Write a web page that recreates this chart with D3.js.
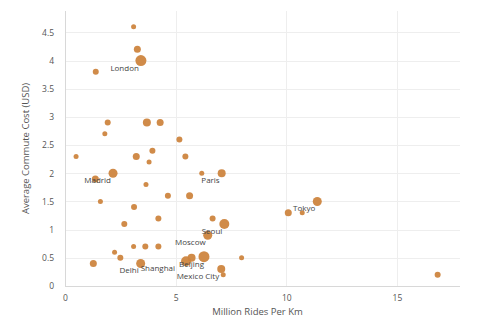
<!DOCTYPE html>
<html>
<head>
<meta charset="utf-8">
<script src="https://cdn.jsdelivr.net/npm/d3@7"></script>
<style>
  html, body { margin: 0; padding: 0; background: #fff; }
  svg { display: block; font-family: "Open Sans", sans-serif; }
</style>
</head>
<body>
<svg id="chart" width="477" height="328"></svg>
<script>
// Data: million rides per km (x), average commute cost USD (y), relative marker size, city label
const ridesPerKm = [3.1, 3.27, 3.43, 1.39, 1.93, 3.7, 4.3, 1.8, 5.17, 0.5, 3.22, 3.95, 5.44, 3.8,
  2.17, 1.37, 3.66, 1.6, 3.12, 2.68, 4.22, 4.65, 5.63, 6.18, 7.08, 3.1, 3.63, 4.22, 2.24, 2.5,
  1.28, 3.42, 6.67, 7.2, 6.45, 7.98, 6.28, 5.72, 5.47, 7.06, 7.15, 10.09, 10.72, 11.4, 16.84];
const commuteCost = [4.6, 4.2, 4.0, 3.8, 2.9, 2.9, 2.9, 2.7, 2.6, 2.3, 2.3, 2.4, 2.3, 2.2,
  2.0, 1.9, 1.8, 1.5, 1.4, 1.1, 1.2, 1.6, 1.6, 2.0, 2.0, 0.7, 0.7, 0.7, 0.6, 0.5,
  0.4, 0.4, 1.2, 1.1, 0.9, 0.5, 0.52, 0.5, 0.44, 0.3, 0.2, 1.3, 1.3, 1.5, 0.2];
const markerSize = [2.5, 3.5, 5.5, 3, 3, 4, 3.5, 2.5, 3, 2.5, 3.5, 3, 3, 2.5,
  4.5, 3.5, 2.5, 2.5, 3, 3, 3, 3, 3.5, 2.5, 4, 2.5, 3, 3, 2.5, 3,
  3.5, 4.5, 3, 5, 4.5, 2.5, 5.5, 4, 5, 4, 2.5, 3.5, 2.5, 4.5, 3];
const cityLabels = ["", "", "London", "", "", "", "", "", "", "", "", "", "", "",
  "Madrid", "", "", "", "", "", "", "", "", "", "Paris", "", "", "", "", "",
  "", "Delhi", "", "Seoul", "Moscow", "", "Beijing", "", "Shanghai", "Mexico City", "", "", "", "Tokyo", ""];
const xTicks = [0, 5, 10, 15];
const yTicks = [0, 0.5, 1, 1.5, 2, 2.5, 3, 3.5, 4, 4.5];
const xTitle = "Million Rides Per Km";
const yTitle = "Average Commute Cost (USD)";

const svg = d3.select("#chart");
const mLeft = 65, mRight = 460, mTop = 11, mBottom = 286;

const x = d3.scaleLinear().domain([0, 17.85]).range([mLeft, mRight]);
const y = d3.scaleLinear().domain([0, 4.88]).range([mBottom, mTop]);

// grid
const grid = svg.append("g");
grid.selectAll("line.h").data(yTicks).join("line")
  .attr("x1", mLeft).attr("x2", mRight)
  .attr("y1", d => Math.round(y(d)) + 0.5).attr("y2", d => Math.round(y(d)) + 0.5)
  .attr("stroke", d => d === 0 ? "#d8d8d8" : "#eeeeee").attr("stroke-width", 1);
grid.selectAll("line.v").data(xTicks).join("line")
  .attr("y1", mTop).attr("y2", mBottom)
  .attr("x1", d => Math.round(x(d)) + 0.5).attr("x2", d => Math.round(x(d)) + 0.5)
  .attr("stroke", d => d === 0 ? "#d8d8d8" : "#eeeeee").attr("stroke-width", 1);

// axes (labels only)
const fmt = d => String(d);
const xAxis = d3.axisBottom(x).tickValues(xTicks).tickFormat(fmt).tickSize(0).tickPadding(9);
const gx = svg.append("g").attr("transform", `translate(0,${mBottom})`).call(xAxis);
gx.select(".domain").remove();
gx.selectAll("text").attr("fill", "#555").style("font-size", "8.5px").style("font-family", "Open Sans");

const yAxis = d3.axisLeft(y).tickValues(yTicks).tickFormat(fmt).tickSize(0).tickPadding(11);
const gy = svg.append("g").attr("transform", `translate(${mLeft},0)`).call(yAxis);
gy.select(".domain").remove();
gy.selectAll("text").attr("fill", "#555").style("font-size", "8.5px").style("font-family", "Open Sans");

// titles
svg.append("text").attr("x", (mLeft + mRight) / 2 - 5).attr("y", 315)
  .attr("text-anchor", "middle").attr("fill", "#555").style("font-size", "9.5px")
  .text(xTitle);
svg.append("text").attr("transform", `translate(29,${(mTop + mBottom) / 2}) rotate(-90)`)
  .attr("text-anchor", "middle").attr("fill", "#555").style("font-size", "9.5px")
  .text(yTitle);

// points
const data = ridesPerKm.map((v, i) => ({ x: v, y: commuteCost[i], r: markerSize[i], label: cityLabels[i] }));
svg.append("g").selectAll("circle").data(data).join("circle")
  .attr("cx", d => x(d.x)).attr("cy", d => y(d.y)).attr("r", d => d.r)
  .attr("fill", "#cd853f").attr("fill-opacity", 0.95);

// labels (Shanghai/Beijing nudged apart so they don't collide)
const labelDx = d => d.label === "Shanghai" ? -11 : (d.label === "Beijing" ? 0 : -2);
svg.append("g").selectAll("text").data(data.filter(d => d.label)).join("text")
  .attr("x", d => x(d.x) + labelDx(d)).attr("y", d => y(d.y) + 10)
  .attr("text-anchor", "end").attr("fill", "#444").style("font-size", "8px")
  .text(d => d.label);
</script>
</body>
</html>
